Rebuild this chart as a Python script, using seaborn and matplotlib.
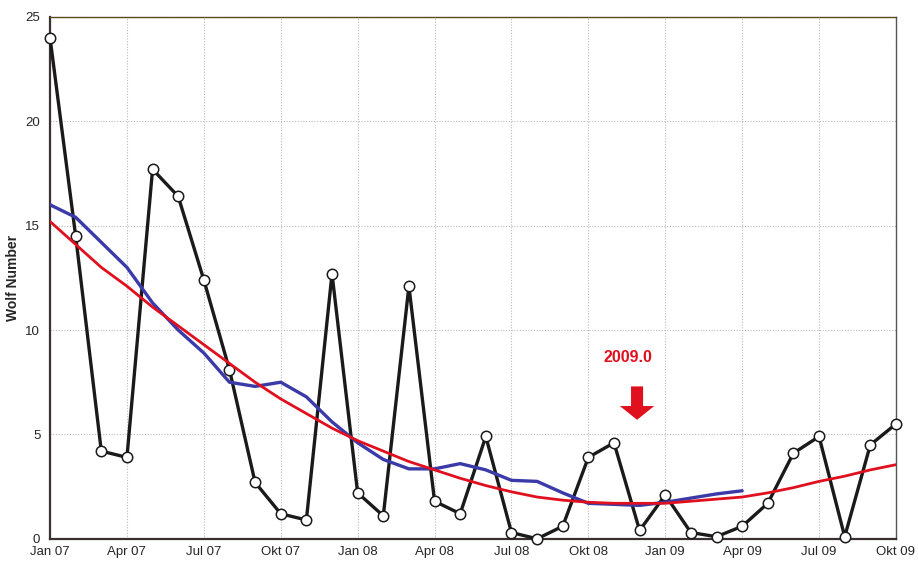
import numpy as np
import pandas as pd
import matplotlib
matplotlib.use("Agg")
import matplotlib.pyplot as plt
import seaborn as sns

# monthly Wolf numbers Jan 07 .. Okt 09
months = ["Jan 07", "Feb 07", "Mar 07", "Apr 07", "Mai 07", "Jun 07", "Jul 07", "Aug 07",
          "Sep 07", "Okt 07", "Nov 07", "Dez 07", "Jan 08", "Feb 08", "Mar 08", "Apr 08",
          "Mai 08", "Jun 08", "Jul 08", "Aug 08", "Sep 08", "Okt 08", "Nov 08", "Dez 08",
          "Jan 09", "Feb 09", "Mar 09", "Apr 09", "Mai 09", "Jun 09", "Jul 09", "Aug 09",
          "Sep 09", "Okt 09"]
wolf = [24.0, 14.5, 4.2, 3.9, 17.7, 16.4, 12.4, 8.1, 2.7, 1.2, 0.9, 12.7,
        2.2, 1.1, 12.1, 1.8, 1.2, 4.9, 0.3, 0.0, 0.6, 3.9, 4.6, 0.4,
        2.1, 0.3, 0.1, 0.6, 1.7, 4.1, 4.9, 0.1, 4.5, 5.5]
# smoothed (blue), ends Apr 09
smoothed = [16.0, 15.4, 14.2, 13.0, 11.3, 10.0, 8.9, 7.5, 7.3, 7.5, 6.8, 5.6,
            4.6, 3.8, 3.35, 3.35, 3.6, 3.3, 2.8, 2.75, 2.2, 1.7, 1.65, 1.6,
            1.75, 1.95, 2.15, 2.3]
# fit curve (red)
fit = [15.2, 14.1, 13.0, 12.1, 11.1, 10.2, 9.3, 8.4, 7.5, 6.7, 6.0, 5.3,
       4.7, 4.2, 3.7, 3.3, 2.9, 2.55, 2.25, 2.0, 1.85, 1.75, 1.7, 1.7,
       1.7, 1.8, 1.9, 2.0, 2.2, 2.45, 2.75, 3.0, 3.3, 3.55]
tick_pos = list(range(0, 34, 3))
tick_labels = [months[i] for i in tick_pos]
yticks = [0, 5, 10, 15, 20, 25]

sns.set_style("white")
plt.rcParams['font.family'] = ['Liberation Sans', 'DejaVu Sans']

df = pd.DataFrame({"m": range(len(wolf)), "wolf": wolf, "fit": fit})
df_s = pd.DataFrame({"m": range(len(smoothed)), "smoothed": smoothed})

fig = plt.figure(figsize=(9.18, 5.63), dpi=100)
ax = fig.add_axes([0.0545, 0.043, 0.9215, 0.927])

sns.lineplot(data=df, x="m", y="wolf", ax=ax, color="#1a1a1a", lw=2.4,
             marker="o", markersize=7.5, markerfacecolor="white",
             markeredgecolor="#1a1a1a", markeredgewidth=1.1, zorder=3, clip_on=False)
sns.lineplot(data=df_s, x="m", y="smoothed", ax=ax, color="#3a3aa8", lw=2.4, zorder=4)
sns.lineplot(data=df, x="m", y="fit", ax=ax, color="#e0101e", lw=2.0, zorder=5)

ax.set_xlim(0, 33)
ax.set_ylim(0, 25)
ax.set_xticks(tick_pos)
ax.set_xticklabels(tick_labels)
ax.set_yticks(yticks)
ax.tick_params(axis="both", labelsize=9.5, length=3, width=1, color="#333333",
               direction="out", pad=4)
ax.tick_params(axis="x", pad=2)
ax.grid(True, color="#bbbbbb", linestyle=(0, (1, 1.5)), linewidth=0.8)
ax.set_axisbelow(True)
ax.set_xlabel("")
ax.set_ylabel("Wolf Number", fontsize=10, fontweight="bold")
ax.yaxis.set_label_coords(-0.036, 0.5)

for side in ["left", "bottom"]:
    ax.spines[side].set_color("#3a3030")
    ax.spines[side].set_linewidth(1.6)
ax.spines["top"].set_color("#5a4a20")
ax.spines["top"].set_linewidth(1.0)
ax.spines["right"].set_color("#555555")
ax.spines["right"].set_linewidth(1.0)

# red arrow + label at 2009.0
ax.arrow(22.9, 7.3, 0, -1.6, width=0.47, head_width=1.34, head_length=0.66,
         length_includes_head=True, color="#e0101e", lw=0, zorder=6)
ax.text(22.55, 8.7, "2009.0", color="#e0101e", fontsize=11.5, fontweight="bold",
        ha="center", va="center")

fig.savefig("out.png", dpi=100)
